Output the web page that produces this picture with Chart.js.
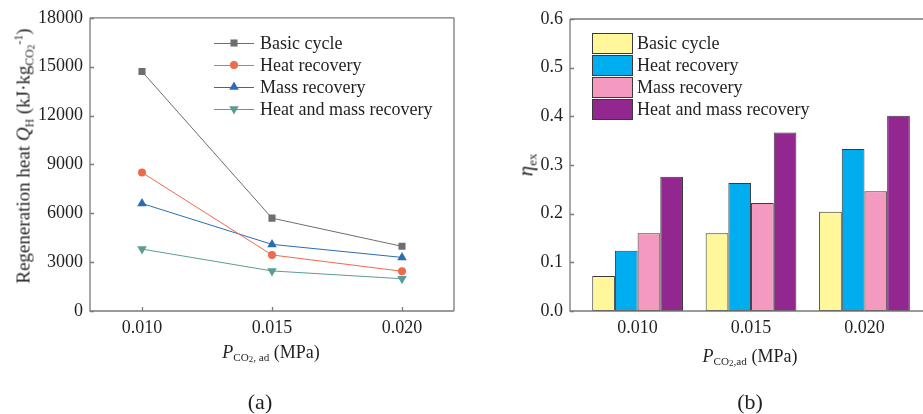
<!DOCTYPE html>
<html>
<head>
<meta charset="utf-8">
<script src="https://cdn.jsdelivr.net/npm/chart.js@4.4.1/dist/chart.umd.min.js"></script>
<style>
  html, body { margin:0; padding:0; background:#fff; }
  #wrap { position:relative; width:923px; height:414px; overflow:hidden; font-family:"Liberation Serif","Times New Roman",serif; color:#231f20; }
  #wrap canvas { position:absolute; left:0; top:0; }
  .t { position:absolute; white-space:nowrap; font-size:18px; line-height:1; }
  .t sub { font-size:0.62em; vertical-align:-0.3em; line-height:0; }
  .t sub sub { font-size:0.8em; vertical-align:-0.15em; }
  .t sup { font-size:0.62em; vertical-align:0.6em; line-height:0; }
  .rot { transform: translate(-50%,-50%) rotate(-90deg); }
  .ctr { transform: translate(-50%,-50%); }
</style>
</head>
<body>
<div id="wrap">
  <canvas id="ca" width="923" height="414"></canvas>
  <canvas id="cb" width="923" height="414"></canvas>
  <div class="t rot" style="left:23px;top:156px;font-size:19px;">Regeneration heat <i>Q</i><sub>H</sub> (kJ·kg<sub>CO<sub>2</sub></sub><sup>-1</sup>)</div>
  <div class="t ctr" style="left:271px;top:352px;"><i>P</i><sub>CO<sub>2</sub>, ad</sub> (MPa)</div>
  <div class="t ctr" style="left:260px;top:402px;font-size:22px;">(a)</div>
  <div class="t rot" style="left:526px;top:165px;font-size:21px;"><i>η</i><sub>ex</sub></div>
  <div class="t ctr" style="left:750px;top:356px;"><i>P</i><sub>CO<sub>2</sub>,ad</sub> (MPa)</div>
  <div class="t ctr" style="left:750px;top:402px;font-size:22px;">(b)</div>
</div>
<script>
// ---------- data ----------
const pressures = [0.010, 0.015, 0.020];
const seriesNames = ['Basic cycle', 'Heat recovery', 'Mass recovery', 'Heat and mass recovery'];
// (a) regeneration heat, kJ/kg CO2
const heatBasic = [14700, 5700, 3970];
const heatHeatRec = [8500, 3440, 2440];
const heatMassRec = [6600, 4090, 3290];
const heatHeatMass = [3800, 2460, 1980];
// (b) exergy efficiency
const effBasic = [0.072, 0.160, 0.204];
const effHeatRec = [0.124, 0.263, 0.333];
const effMassRec = [0.160, 0.222, 0.246];
const effHeatMass = [0.276, 0.367, 0.401];
const yTicksA = [0, 3000, 6000, 9000, 12000, 15000, 18000];
const yTicksB = [0.0, 0.1, 0.2, 0.3, 0.4, 0.5, 0.6];

const FONT = { family: '"Liberation Serif","Times New Roman",serif', size: 18 };
const TXT = '#231f20';
const AXC = '#7a7a7a';

function pts(vals) { return pressures.map((p, i) => ({ x: p, y: vals[i] })); }

function drawMarker(ctx, style, x, y, r, color) {
  ctx.fillStyle = color;
  ctx.beginPath();
  if (style === 'rect') { const s = r * Math.SQRT1_2; ctx.rect(x - s, y - s, 2 * s, 2 * s); }
  else if (style === 'circle') { ctx.arc(x, y, r, 0, Math.PI * 2); }
  else if (style === 'tri' || style === 'tridown') {
    const d = style === 'tri' ? 1 : -1;
    ctx.moveTo(x, y - d * r);
    ctx.lineTo(x + r * Math.sin(Math.PI / 3), y + d * r * 0.5);
    ctx.lineTo(x - r * Math.sin(Math.PI / 3), y + d * r * 0.5);
    ctx.closePath();
  }
  ctx.fill();
}

const framePlugin = {
  id: 'frame',
  afterDatasetsDraw(chart, args, o) {
    const { ctx, chartArea: a, scales } = chart;
    ctx.save();
    ctx.strokeStyle = AXC; ctx.lineWidth = 1.3;
    ctx.beginPath();
    ctx.moveTo(a.left, a.top); ctx.lineTo(a.right, a.top);
    if (o.right) { ctx.moveTo(a.right, a.top); ctx.lineTo(a.right, a.bottom); }
    ctx.moveTo(a.left, a.top); ctx.lineTo(a.left, a.bottom); ctx.lineTo(a.right, a.bottom);
    scales.y.ticks.forEach((t, i) => { const py = Math.round(scales.y.getPixelForTick(i)) + 0.5; ctx.moveTo(a.left, py); ctx.lineTo(a.left + 4, py); });
    if (o.xticks) scales.x.ticks.forEach((t, i) => { const px = Math.round(scales.x.getPixelForTick(i)) + 0.5; ctx.moveTo(px, a.bottom); ctx.lineTo(px, a.bottom - 4); });
    ctx.stroke();
    ctx.restore();
  }
};

const lineLegend = {
  id: 'lineLegend',
  afterDraw(chart) {
    const ctx = chart.ctx;
    ctx.save();
    chart.data.datasets.forEach((ds, i) => {
      const y = 43 + 22 * i;
      ctx.strokeStyle = ds.borderColor; ctx.lineWidth = 1;
      ctx.beginPath(); ctx.moveTo(214, y + 0.5); ctx.lineTo(254, y + 0.5); ctx.stroke();
      drawMarker(ctx, ds.mk, 234, y, ds.mr, ds.backgroundColor);
      ctx.fillStyle = TXT; ctx.font = '18px ' + FONT.family; ctx.textBaseline = 'middle'; ctx.textAlign = 'left';
      ctx.fillText(ds.label, 260, y + 1);
    });
    ctx.restore();
  }
};

const barLegend = {
  id: 'barLegend',
  afterDraw(chart) {
    const ctx = chart.ctx;
    ctx.save();
    chart.data.datasets.forEach((ds, i) => {
      const top = 33 + 22 * i;
      ctx.fillStyle = ds.backgroundColor; ctx.fillRect(592, top, 40, 20);
      ctx.strokeStyle = '#3a3a3a'; ctx.lineWidth = 1; ctx.strokeRect(592.5, top + 0.5, 40, 20);
      ctx.fillStyle = TXT; ctx.font = '18px ' + FONT.family; ctx.textBaseline = 'middle'; ctx.textAlign = 'left';
      ctx.fillText(ds.label, 637, top + 11);
    });
    ctx.restore();
  }
};

// ---------- chart (a) ----------
const lineStyles = [
  { c: '#6d6e71', mk: 'rect', ps: 'rect', r: 5, rot: 0 },
  { c: '#ee6a4d', mk: 'circle', ps: 'circle', r: 4, rot: 0 },
  { c: '#2b6db3', mk: 'tri', ps: 'triangle', r: 5.5, rot: 0 },
  { c: '#5d9c95', mk: 'tridown', ps: 'triangle', r: 5.5, rot: 180 }
];
const heatSeries = [heatBasic, heatHeatRec, heatMassRec, heatHeatMass];

new Chart(document.getElementById('ca'), {
  type: 'line',
  data: {
    datasets: heatSeries.map((vals, i) => ({
      label: seriesNames[i],
      data: pts(vals),
      borderColor: lineStyles[i].c,
      backgroundColor: lineStyles[i].c,
      borderWidth: 1,
      pointStyle: lineStyles[i].ps,
      pointRotation: lineStyles[i].rot,
      pointRadius: lineStyles[i].r,
      pointBorderWidth: 0,
      mk: lineStyles[i].mk,
      mr: lineStyles[i].r,
      tension: 0
    }))
  },
  options: {
    responsive: false, animation: false, devicePixelRatio: 1,
    layout: { padding: { left: 30, top: 17, right: 469, bottom: 63 } },
    plugins: { legend: { display: false }, tooltip: { enabled: false }, frame: { right: true, xticks: true } },
    scales: {
      x: {
        type: 'linear', min: 0.008, max: 0.022, offset: false,
        afterBuildTicks: s => { s.ticks = pressures.map(v => ({ value: v })); },
        afterFit: s => { s.height = 40; },
        grid: { display: false, drawTicks: false },
        border: { display: false },
        ticks: { font: FONT, color: TXT, padding: 6, maxRotation: 0, autoSkip: false, callback: v => v.toFixed(3) }
      },
      y: {
        min: 0, max: 18000,
        afterBuildTicks: s => { s.ticks = yTicksA.map(v => ({ value: v })); },
        afterFit: s => { s.width = 60; },
        grid: { display: false, drawTicks: false },
        border: { display: false },
        ticks: { font: FONT, color: TXT, padding: 7, callback: v => String(v) }
      }
    }
  },
  plugins: [framePlugin, lineLegend]
});

// ---------- chart (b) ----------
const barColors = ['#fff799', '#00aeef', '#f49ac1', '#92278f'];
const effSeries = [effBasic, effHeatRec, effMassRec, effHeatMass];

new Chart(document.getElementById('cb'), {
  type: 'bar',
  data: {
    datasets: effSeries.map((vals, i) => ({
      label: seriesNames[i],
      data: pts(vals),
      backgroundColor: barColors[i],
      borderColor: '#3a3a3a',
      borderWidth: 1,
      borderSkipped: false,
      categoryPercentage: 0.8,
      barPercentage: 1.0
    }))
  },
  options: {
    responsive: false, animation: false, devicePixelRatio: 1,
    layout: { padding: { left: 520, top: 19, right: 0, bottom: 63 } },
    plugins: { legend: { display: false }, tooltip: { enabled: false }, frame: { right: false, xticks: false } },
    scales: {
      x: {
        type: 'linear', min: 0.00702, max: 0.02258, offset: false,
        afterBuildTicks: s => { s.ticks = pressures.map(v => ({ value: v })); },
        afterFit: s => { s.height = 40; },
        grid: { display: false, drawTicks: false },
        border: { display: false },
        ticks: { font: FONT, color: TXT, padding: 6, maxRotation: 0, autoSkip: false, callback: v => v.toFixed(3) }
      },
      y: {
        min: 0, max: 0.6,
        afterBuildTicks: s => { s.ticks = yTicksB.map(v => ({ value: v })); },
        afterFit: s => { s.width = 50; },
        grid: { display: false, drawTicks: false },
        border: { display: false },
        ticks: { font: FONT, color: TXT, padding: 7, callback: v => v.toFixed(1) }
      }
    }
  },
  plugins: [framePlugin, barLegend]
});
</script>
</body>
</html>
